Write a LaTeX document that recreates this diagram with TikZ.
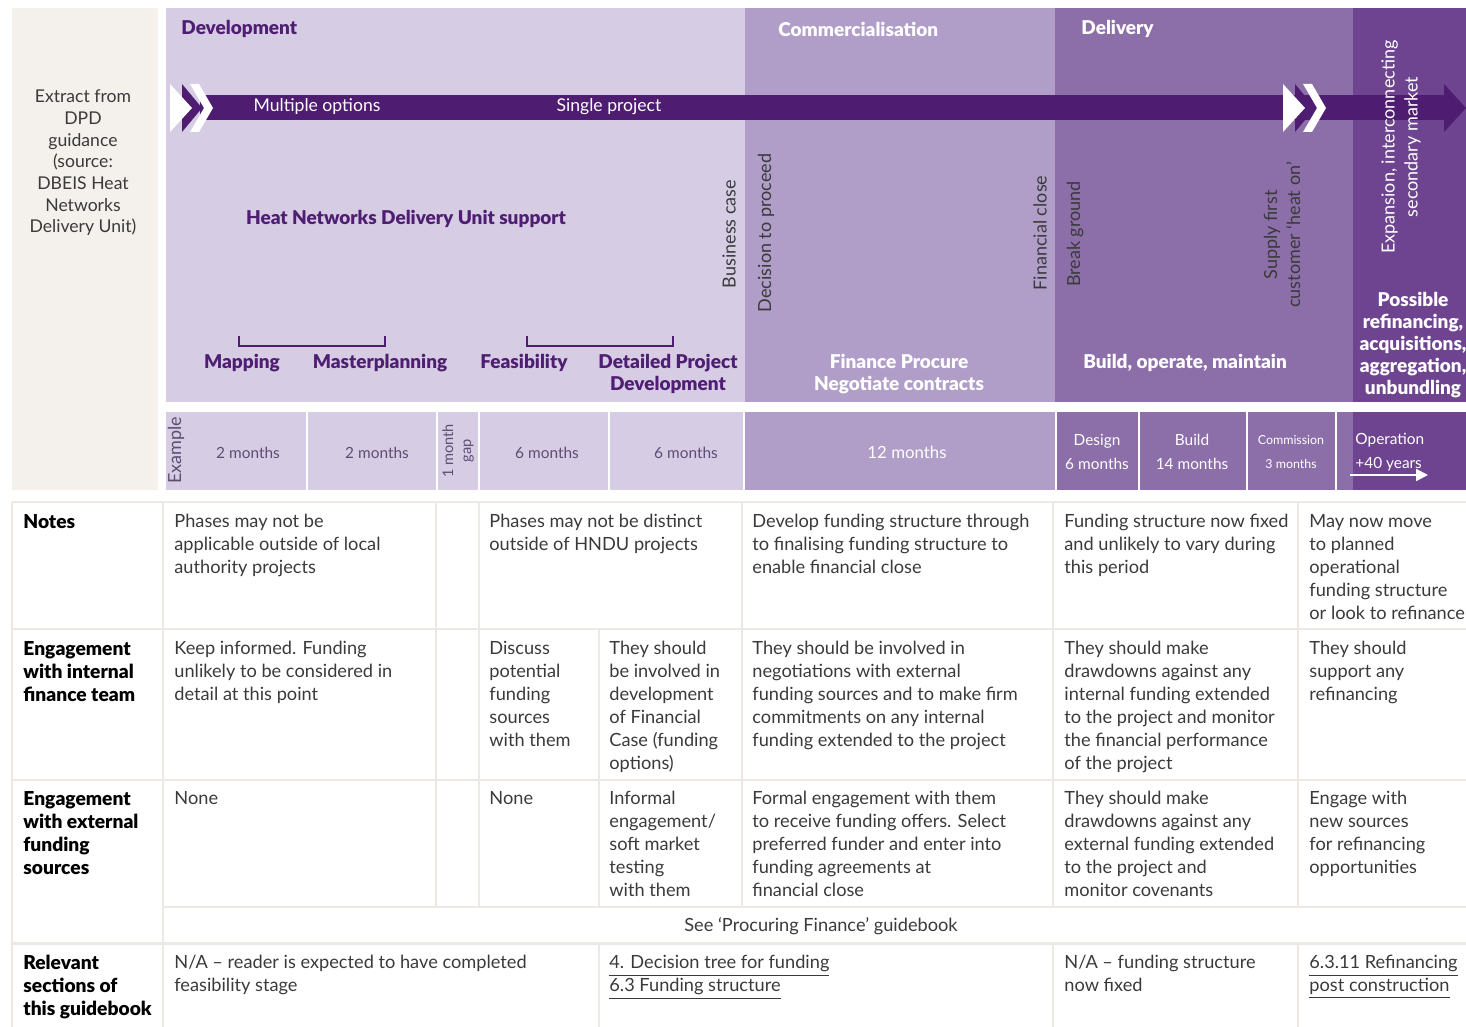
\documentclass[tikz,border=0pt]{standalone}
\usepackage{fontspec}
\setmainfont{Lato}[BoldFont={Lato Black}]
\usetikzlibrary{arrows.meta}

\definecolor{sand}{HTML}{F4F0EC}
\definecolor{devfill}{HTML}{D6CCE4}
\definecolor{comfill}{HTML}{B09DC8}
\definecolor{delfill}{HTML}{8C6EA8}
\definecolor{opfill}{HTML}{6E4490}
\definecolor{barpurple}{HTML}{4E1C70}
\definecolor{inkpurple}{HTML}{4F1E72}
\definecolor{rulecol}{HTML}{EDE8E4}
\definecolor{bodyink}{HTML}{3A3A3A}
\definecolor{spanink}{HTML}{5E4D73}

\tikzset{
  cell/.style={anchor=north west, inner sep=0pt, align=left, text=bodyink,
    font=\fontsize{9.1}{11.5}\selectfont},
  rowhead/.style={cell, text=black, font=\fontsize{9.6}{11.5}\selectfont\bfseries},
  phasehead/.style={inner sep=0pt, font=\fontsize{9.5}{11}\selectfont\bfseries},
  stage/.style={inner sep=0pt, align=center, text=inkpurple,
    font=\fontsize{9.5}{11}\selectfont\bfseries},
  milestone/.style={inner sep=0pt, rotate=90, align=center, text=bodyink,
    font=\fontsize{9}{11.5}\selectfont},
  span/.style={inner sep=0pt, align=center, text=spanink,
    font=\fontsize{7.7}{12}\selectfont},
  rule/.style={draw=rulecol, line width=0.8pt}
}

\begin{document}
\begin{tikzpicture}[x=0.5pt,y=-0.5pt]
  \useasboundingbox (0,0) rectangle (1466,1027);

  % source box
  \fill[sand] (12,8) rectangle (158,490);
  \node[inner sep=0pt, align=center, text=bodyink,
    font=\fontsize{8.8}{10.85}\selectfont] (source) at (83,163)
    {Extract from\\DPD\\guidance\\(source:\\DBEIS Heat\\Networks\\Delivery Unit)};

  % phase bands and timeline row
  \foreach \ya/\yb in {8/402, 412/490}{
    \fill[devfill] (166,\ya) rectangle (745,\yb);
    \fill[comfill] (745,\ya) rectangle (1055,\yb);
    \fill[delfill] (1055,\ya) rectangle (1353,\yb);
    \fill[opfill] (1353,\ya) rectangle (1466,\yb);
  }
  \foreach \x in {307,437,479,609,744,1056,1139,1247,1336}
    \draw[white, line width=1.1pt] (\x,412) -- (\x,490);

  % main arrow
  \fill[barpurple] (200,95) rectangle (1446,120);
  \fill[barpurple] (1444,84) -- (1466,108) -- (1444,132) -- cycle;
  \foreach \x in {170,1283}{
    \begin{scope}[shift={(\x,0)}]
      \fill[barpurple] (12,84) -- (32,108) -- (12,132) -- cycle;
      \fill[white] (0,84) -- (22,108) -- (0,132) -- cycle;
      \fill[white] (20,84) -- (29,84) -- (43,108) -- (29,132) -- (20,132) -- (34,108) -- cycle;
    \end{scope}
  }
  \node[inner sep=0pt, text=white, font=\fontsize{8.8}{10}\selectfont] (multi) at (317,107) {Multiple options};
  \node[inner sep=0pt, text=white, font=\fontsize{8.8}{10}\selectfont] (single) at (609,107) {Single project};

  % phase headings
  \node[phasehead, anchor=west, text=inkpurple] (dev) at (181,29) {Development};
  \node[phasehead, anchor=west, text=white] (com) at (778,29) {Commercialisation};
  \node[phasehead, anchor=west, text=white] (del) at (1081,29) {Delivery};
  \node[stage] (hndu) at (406,219) {Heat Networks Delivery Unit support};

  % stages
  \draw[inkpurple, line width=1.3pt] (239,336) |- (385,346) -- (385,336);
  \draw[inkpurple, line width=1.3pt] (527,336) |- (673,346) -- (673,336);
  \node[stage] (mapping) at (242,363) {Mapping};
  \node[stage] (master) at (380,363) {Masterplanning};
  \node[stage] (feas) at (524,363) {Feasibility};
  \node[stage] (detailed) at (668,374) {Detailed Project\\Development};
  \node[stage, text=white] (procure) at (899,374) {Finance Procure\\Negotiate contracts};
  \node[stage, text=white] (build) at (1185,363) {Build, operate, maintain};
  \node[stage, text=white] (refin) at (1413,345) {Possible\\refinancing,\\acquisitions,\\aggregation,\\unbundling};

  % milestones
  \node[milestone] (bcase) at (729,234) {Business case};
  \node[milestone] (decide) at (766,233) {Decision to proceed};
  \node[milestone] (fclose) at (1040,233) {Financial close};
  \node[milestone] (ground) at (1075,234) {Break ground};
  \node[milestone] (heaton) at (1282,235) {Supply first\\customer ‘heat on’};
  \node[milestone, text=white] (expand) at (1401,147) {Expansion, interconnecting\\secondary market};

  % example durations
  \node[milestone, text=spanink, font=\fontsize{9}{10}\selectfont] (example) at (176,450) {Example};
  \node[span] (t1) at (248,453) {2 months};
  \node[span] (t2) at (377,453) {2 months};
  \node[milestone, text=spanink, font=\fontsize{7.3}{9}\selectfont] (gap) at (458,451) {1 month\\gap};
  \node[span] (t3) at (547,453) {6 months};
  \node[span] (t4) at (686,453) {6 months};
  \node[span, text=white, font=\fontsize{8.4}{12}\selectfont] (t5) at (907,452) {12 months};
  \node[span, text=white] (t6) at (1097,452) {Design\\6 months};
  \node[span, text=white] (t7) at (1192,452) {Build\\14 months};
  \node[span, text=white, font=\fontsize{6.2}{12}\selectfont] (t8) at (1291,452) {Commission\\3 months};
  \node[span, text=white, anchor=west, align=left] (t9) at (1355,452) {Operation\\+40 years};
  \coordinate (opstart) at (1350,475);
  \coordinate (opend) at (1428,475);
  \draw[white, line width=1pt, -{Triangle[length=6pt,width=6pt]}] (opstart) -- (opend);

  % table rules
  \foreach \y in {502,629,780,943}
    \draw[rule] (12,\y) -- (1466,\y);
  \draw[rule] (163,907) -- (1466,907);
  \draw[rule, line width=1.5pt] (12,943) -- (1466,943);
  \foreach \x in {12,163}
    \draw[rule] (\x,502) -- (\x,1027);
  \foreach \x in {436,479,742}
    \draw[rule] (\x,502) -- (\x,907);
  \foreach \x in {1053,1298}{
    \draw[rule] (\x,502) -- (\x,907);
    \draw[rule] (\x,943) -- (\x,1027);
  }
  \draw[rule] (599,629) -- (599,907);
  \draw[rule] (599,943) -- (599,1027);

  % notes
  \node[rowhead] (notes) at (23,514) {Notes};
  \node[cell] (n1) at (174,514) {Phases may not be\\applicable outside of local\\authority projects};
  \node[cell] (n2) at (489,514) {Phases may not be distinct\\outside of HNDU projects};
  \node[cell] (n3) at (752,514) {Develop funding structure through\\to finalising funding structure to\\enable financial close};
  \node[cell] (n4) at (1064,514) {Funding structure now fixed\\and unlikely to vary during\\this period};
  \node[cell] (n5) at (1309,514) {May now move\\to planned\\operational\\funding structure\\or look to refinance};

  % internal finance team
  \node[rowhead] (internal) at (23,641) {Engagement\\with internal\\finance team};
  \node[cell] (i1) at (174,641) {Keep informed. Funding\\unlikely to be considered in\\detail at this point};
  \node[cell] (i2) at (489,641) {Discuss\\potential\\funding\\sources\\with them};
  \node[cell] (i3) at (609,641) {They should\\be involved in\\development\\of Financial\\Case (funding\\options)};
  \node[cell] (i4) at (752,641) {They should be involved in\\negotiations with external\\funding sources and to make firm\\commitments on any internal\\funding extended to the project};
  \node[cell] (i5) at (1064,641) {They should make\\drawdowns against any\\internal funding extended\\to the project and monitor\\the financial performance\\of the project};
  \node[cell] (i6) at (1309,641) {They should\\support any\\refinancing};

  % external funding sources
  \node[rowhead] (external) at (23,791) {Engagement\\with external\\funding\\sources};
  \node[cell] (e1) at (174,791) {None};
  \node[cell] (e2) at (489,791) {None};
  \node[cell] (e3) at (609,791) {Informal\\engagement/\\soft market\\testing\\with them};
  \node[cell] (e4) at (752,791) {Formal engagement with them\\to receive funding offers. Select\\preferred funder and enter into\\funding agreements at\\financial close};
  \node[cell] (e5) at (1064,791) {They should make\\drawdowns against any\\external funding extended\\to the project and\\monitor covenants};
  \node[cell] (e6) at (1309,791) {Engage with\\new sources\\for refinancing\\opportunities};
  \node[cell, anchor=center] (see) at (821,926) {See ‘Procuring Finance’ guidebook};

  % relevant sections
  \node[rowhead] (relevant) at (23,955) {Relevant\\sections of\\this guidebook};
  \node[cell] (r1) at (174,955) {N/A – reader is expected to have completed\\feasibility stage};
  \node[cell] (r2) at (609,955) {\underline{4. Decision tree for funding}\\\underline{6.3 Funding structure}};
  \node[cell] (r3) at (1064,955) {N/A – funding structure\\now fixed};
  \node[cell] (r4) at (1309,955) {\underline{6.3.11 Refinancing}\\\underline{post construction}};
\end{tikzpicture}
\end{document}
